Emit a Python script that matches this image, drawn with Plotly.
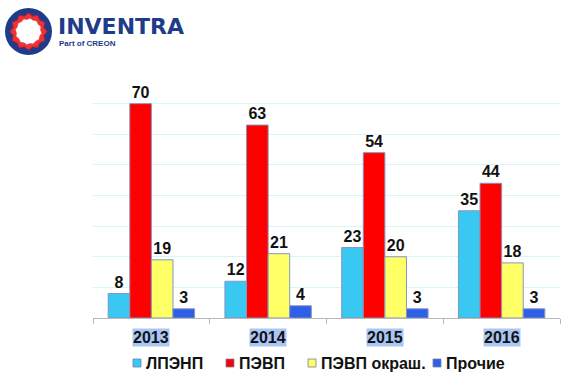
import math
import plotly.graph_objects as go

# ---- data ----
years = ["2013", "2014", "2015", "2016"]
series_names = ["ЛПЭНП", "ПЭВП", "ПЭВП окраш.", "Прочие"]
lpenp = [8, 12, 23, 35]
pevp = [70, 63, 54, 44]
pevp_okr = [19, 21, 20, 18]
prochie = [3, 4, 3, 3]
series_values = [lpenp, pevp, pevp_okr, prochie]
colors = ["#38C8F2", "#FF0000", "#FFFF66", "#2F5FE6"]

# ---- layout geometry (pixels) ----
W, H = 574, 391
ML, MR, MT, MB = 93, 14, 73, 73
PW, PH = W - ML - MR, H - MT - MB


def px(x):
    return (x - ML) / PW


def py(y):
    return (H - MB - y) / PH


FONT = "Liberation Sans, Arial, sans-serif"

fig = go.Figure()
for name, vals, col in zip(series_names, series_values, colors):
    fig.add_trace(go.Bar(
        x=years, y=vals, name=name,
        marker=dict(color=col, line=dict(color="#8595c0", width=1)),
        text=vals, texttemplate="<b>%{text}</b>", textposition="outside",
        textfont=dict(family=FONT, size=16, color="#111111"),
        cliponaxis=False, showlegend=False,
    ))

shapes = []
annotations = []

# year labels with highlight (placed at category index)
for i, yv in enumerate(years):
    annotations.append(dict(
        x=i, xref="x", y=py(337), yref="paper", yanchor="middle",
        text=f"<b>{yv}</b>", showarrow=False, bgcolor="#A9C6F5", borderpad=0,
        font=dict(family=FONT, size=16, color="#111111"),
    ))

# manual legend
leg_marker_x = [133, 226, 308, 433]
leg_y = 363
for name, col, mx in zip(series_names, colors, leg_marker_x):
    shapes.append(dict(type="rect", xref="paper", yref="paper",
                       x0=px(mx), x1=px(mx + 8), y0=py(leg_y + 4), y1=py(leg_y - 4),
                       fillcolor=col, line=dict(color="#7080a8", width=0.8)))
    annotations.append(dict(
        x=px(mx + 11), xref="paper", y=py(leg_y), yref="paper",
        xanchor="left", yanchor="middle", showarrow=False,
        text=f"<b>{name}</b>", font=dict(family=FONT, size=16, color="#111111"),
    ))

# logo
cx, cy = 28.5, 31.5
shapes.append(dict(type="circle", xref="paper", yref="paper",
                   x0=px(cx - 23.5), x1=px(cx + 23.5), y0=py(cy + 23.5), y1=py(cy - 23.5),
                   fillcolor="#1E3C8A", line=dict(width=0)))
pts = []
n = 24
for i in range(n):
    r = 18.5 if i % 2 == 0 else 15.8
    a = 2 * math.pi * i / n
    pts.append((px(cx + r * math.cos(a)), py(cy + r * math.sin(a))))
path = "M " + " L ".join(f"{x:.5f},{y:.5f}" for x, y in pts) + " Z"
shapes.append(dict(type="path", xref="paper", yref="paper", path=path,
                   fillcolor="#EE3338", line=dict(color="#C8202A", width=1)))
pts2 = []
for i in range(n):
    r = 12.8 if i % 2 == 0 else 11.6
    a = 2 * math.pi * (i + 0.5) / n
    pts2.append((px(cx + r * math.cos(a)), py(cy + r * math.sin(a))))
path2 = "M " + " L ".join(f"{x:.5f},{y:.5f}" for x, y in pts2) + " Z"
shapes.append(dict(type="path", xref="paper", yref="paper", path=path2,
                   fillcolor="#FFFFFF", line=dict(color="#FFFFFF", width=0.5)))

annotations.append(dict(
    x=px(56), xref="paper", y=py(26.5), yref="paper", xanchor="left", yanchor="middle",
    text="<b>INVENTRA</b>", showarrow=False,
    font=dict(family="DejaVu Sans, sans-serif", size=22, color="#1E3C8A"),
))
annotations.append(dict(
    x=px(57), xref="paper", y=py(44), yref="paper", xanchor="left", yanchor="middle",
    text="<b>Part of CREON</b>", showarrow=False,
    font=dict(family=FONT, size=8, color="#1E3C8A"),
))

fig.update_layout(
    width=W, height=H,
    margin=dict(l=ML, r=MR, t=MT, b=MB, pad=0),
    paper_bgcolor="white", plot_bgcolor="white",
    barmode="group", bargap=0.26, bargroupgap=0,
    showlegend=False,
    shapes=shapes, annotations=annotations,
    xaxis=dict(type="category", range=[-0.5, len(years) - 0.5], showticklabels=False,
               showline=True, linecolor="#B8B8B8",
               linewidth=1, ticks="outside", tickson="boundaries", ticklen=5,
               tickcolor="#B8B8B8", showgrid=False, zeroline=False),
    yaxis=dict(range=[0, 80], dtick=10, showticklabels=False, showgrid=True,
               gridcolor="#D4F6F6", gridwidth=1, zeroline=False, showline=False),
)

fig.write_html("out.html", config={"displayModeBar": False},
               post_script="document.body.style.margin='0';document.body.style.overflow='hidden';")
